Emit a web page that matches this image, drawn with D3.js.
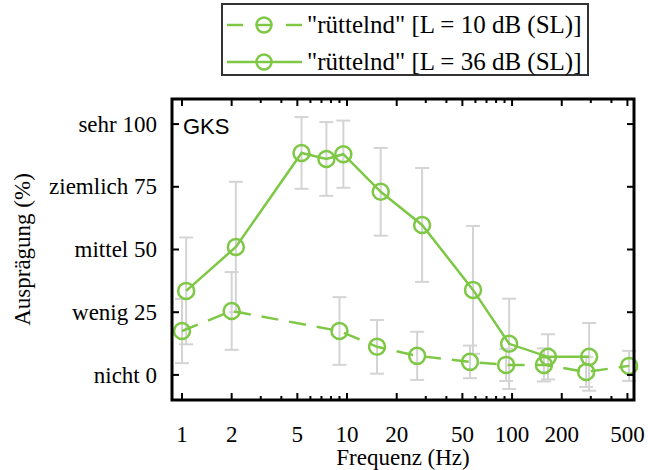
<!DOCTYPE html>
<html>
<head>
<meta charset="utf-8">
<script src="https://cdn.jsdelivr.net/npm/d3@7"></script>
<style>
  body { margin: 0; background: #fff; }
</style>
</head>
<body>
<div id="chart"></div>
<script>
// data
const freqLow = [1.0, 2.0, 9.0, 15.2, 26.6, 55.6, 92, 156, 281, 512];
const meanLow = [17.5, 25.5, 17.5, 11.2, 7.6, 5.2, 4.0, 4.0, 1.2, 3.6];
const errLow = [12.8, 15.5, 13.5, 10.7, 9.6, 6.5, 6.4, 6.6, 6, 6];

const freqHigh = [1.06, 2.12, 5.3, 7.5, 9.5, 16, 28.5, 58, 96, 165, 293];
const meanHigh = [33.5, 51, 88.5, 86.1, 88, 73, 59.8, 33.9, 12.4, 7.2, 7.2];
const errHigh = [21.3, 26, 14.3, 14.7, 13.4, 17.5, 22.7, 25.5, 18, 9, 13.5];

const seriesNames = ['"rüttelnd" [L = 10 dB (SL)]', '"rüttelnd" [L = 36 dB (SL)]'];
const xTickValues = [1, 2, 5, 10, 20, 50, 100, 200, 500];
const yTickValues = [0, 25, 50, 75, 100];
const yTickWords = ["nicht", "wenig", "mittel", "ziemlich", "sehr"];

const width = 648;
const height = 470;
const green = "#7ec845";
const grey = "#d4d4d4";
const serif = "'Liberation Serif', 'Times New Roman', serif";

const plot = { left: 172, right: 634, top: 99, bottom: 400 };

const x = d3.scaleLog().domain([0.87, 548]).range([plot.left, plot.right]);
const y = d3.scaleLinear().domain([-10, 110]).range([plot.bottom, plot.top]);

const svg = d3.select("#chart").append("svg")
    .attr("width", width)
    .attr("height", height)
    .style("font-family", serif);

const series = [
    { name: seriesNames[0], f: freqLow, m: meanLow, e: errLow, dash: "17,11" },
    { name: seriesNames[1], f: freqHigh, m: meanHigh, e: errHigh, dash: null }
].map(s => ({ ...s, pts: s.f.map((f, i) => ({ f, m: s.m[i], e: s.e[i] })) }));

// error bars
const eb = svg.append("g")
    .attr("stroke", grey)
    .attr("stroke-width", 2)
    .attr("fill", "none");
series.forEach(s => {
    s.pts.forEach(d => {
        const cx = x(d.f);
        eb.append("line").attr("x1", cx).attr("x2", cx).attr("y1", y(d.m - d.e)).attr("y2", y(d.m + d.e));
        eb.append("line").attr("x1", cx - 7).attr("x2", cx + 7).attr("y1", y(d.m - d.e)).attr("y2", y(d.m - d.e));
        eb.append("line").attr("x1", cx - 7).attr("x2", cx + 7).attr("y1", y(d.m + d.e)).attr("y2", y(d.m + d.e));
    });
});

const line = d3.line().x(d => x(d.f)).y(d => y(d.m));

series.forEach(s => {
    svg.append("path")
        .datum(s.pts)
        .attr("d", line)
        .attr("fill", "none")
        .attr("stroke", green)
        .attr("stroke-width", 2.5)
        .attr("stroke-dasharray", s.dash);
    svg.append("g")
        .selectAll("circle")
        .data(s.pts)
        .join("circle")
        .attr("cx", d => x(d.f))
        .attr("cy", d => y(d.m))
        .attr("r", 8)
        .attr("fill", "none")
        .attr("stroke", green)
        .attr("stroke-width", 2.5);
});

// ticks (inward, all four sides)
const minorX = [];
[1, 10, 100].forEach(dec => {
    for (let k = 1; k < 10; k++) {
        const v = k * dec;
        if (v <= 500 && !xTickValues.includes(v)) minorX.push(v);
    }
});
const tk = svg.append("g").attr("stroke", "#000").attr("stroke-width", 2);
xTickValues.forEach(v => {
    tk.append("line").attr("x1", x(v)).attr("x2", x(v)).attr("y1", plot.bottom).attr("y2", plot.bottom - 7);
    tk.append("line").attr("x1", x(v)).attr("x2", x(v)).attr("y1", plot.top).attr("y2", plot.top + 7);
});
minorX.forEach(v => {
    tk.append("line").attr("x1", x(v)).attr("x2", x(v)).attr("y1", plot.bottom).attr("y2", plot.bottom - 4);
    tk.append("line").attr("x1", x(v)).attr("x2", x(v)).attr("y1", plot.top).attr("y2", plot.top + 4);
});
yTickValues.forEach(v => {
    tk.append("line").attr("x1", plot.left).attr("x2", plot.left + 7).attr("y1", y(v)).attr("y2", y(v));
    tk.append("line").attr("x1", plot.right).attr("x2", plot.right - 7).attr("y1", y(v)).attr("y2", y(v));
});

// frame
svg.append("rect")
    .attr("x", plot.left)
    .attr("y", plot.top)
    .attr("width", plot.right - plot.left)
    .attr("height", plot.bottom - plot.top)
    .attr("fill", "none")
    .attr("stroke", "#000")
    .attr("stroke-width", 3);

// tick labels
svg.append("g")
    .attr("font-size", 23)
    .attr("text-anchor", "middle")
    .selectAll("text")
    .data(xTickValues)
    .join("text")
    .attr("x", d => x(d))
    .attr("y", 442)
    .text(d => d);

svg.append("g")
    .attr("font-size", 23)
    .attr("text-anchor", "end")
    .selectAll("text")
    .data(yTickValues)
    .join("text")
    .attr("x", 157)
    .attr("y", d => y(d))
    .attr("dy", "0.33em")
    .text((d, i) => yTickWords[i] + " " + d);

// axis titles
svg.append("text")
    .attr("x", (plot.left + plot.right) / 2)
    .attr("y", 465)
    .attr("text-anchor", "middle")
    .attr("font-size", 23)
    .text("Frequenz (Hz)");

svg.append("text")
    .attr("transform", `translate(30, ${y(50)}) rotate(-90)`)
    .attr("text-anchor", "middle")
    .attr("font-size", 23)
    .text("Ausprägung (%)");

svg.append("text")
    .attr("x", 183)
    .attr("y", 134)
    .attr("font-family", "'Liberation Sans', Arial, sans-serif")
    .attr("font-size", 22)
    .text("GKS");

// legend
const lg = svg.append("g");
lg.append("rect")
    .attr("x", 222).attr("y", 4)
    .attr("width", 366).attr("height", 71)
    .attr("fill", "#fff")
    .attr("stroke", "#333")
    .attr("stroke-width", 2);
series.forEach((s, i) => {
    const cy = 25 + i * 37;
    if (s.dash) {
        lg.append("line").attr("x1", 227).attr("x2", 243).attr("y1", cy).attr("y2", cy)
            .attr("stroke", green).attr("stroke-width", 2.5);
        lg.append("line").attr("x1", 286).attr("x2", 302).attr("y1", cy).attr("y2", cy)
            .attr("stroke", green).attr("stroke-width", 2.5);
        lg.append("line").attr("x1", 257).attr("x2", 271).attr("y1", cy).attr("y2", cy)
            .attr("stroke", green).attr("stroke-width", 2.5);
    } else {
        lg.append("line").attr("x1", 227).attr("x2", 302).attr("y1", cy).attr("y2", cy)
            .attr("stroke", green).attr("stroke-width", 2.5);
    }
    lg.append("circle").attr("cx", 264).attr("cy", cy).attr("r", 7.5)
        .attr("fill", "none").attr("stroke", green).attr("stroke-width", 2.5);
    lg.append("text")
        .attr("x", 307).attr("y", cy)
        .attr("dy", "0.33em")
        .attr("font-size", 25)
        .text(s.name);
});
</script>
</body>
</html>
